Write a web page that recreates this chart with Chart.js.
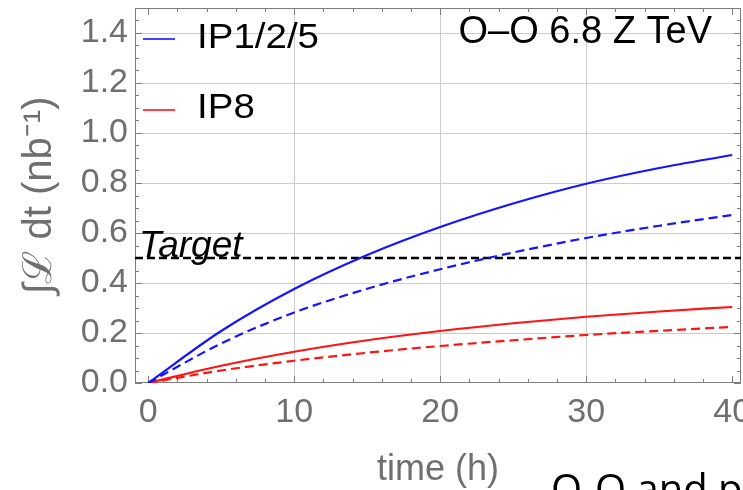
<!DOCTYPE html>
<html>
<head>
<meta charset="utf-8">
<script src="https://cdn.jsdelivr.net/npm/chart.js@4.4.0/dist/chart.umd.min.js"></script>
<style>
  html, body { margin: 0; padding: 0; background: #ffffff; overflow: hidden; }
  #wrap { position: relative; width: 743px; height: 490px; }
</style>
</head>
<body>
<div id="wrap"><canvas id="lumi" width="743" height="490"></canvas></div>
<script>
// Integrated luminosity vs. time for the O-O run (nb^-1 against hours)
const hours        = [0, 5, 10, 15, 20, 25, 30, 35, 40];
const ip125Solid   = [0, 0.208, 0.376, 0.512, 0.624, 0.718, 0.797, 0.860, 0.912];
const ip125Dashed  = [0, 0.158, 0.282, 0.377, 0.455, 0.522, 0.580, 0.629, 0.672];
const ip8Solid     = [0, 0.069, 0.125, 0.171, 0.208, 0.239, 0.265, 0.286, 0.304];
const ip8Dashed    = [0, 0.050, 0.089, 0.121, 0.148, 0.171, 0.192, 0.209, 0.224];
const targetLumi   = 0.5;

const xTicks      = [0, 10, 20, 30, 40];
const xTickLabels = ['0', '10', '20', '30', '40'];
const yTicks      = [0, 0.2, 0.4, 0.6, 0.8, 1.0, 1.2, 1.4];
const yTickLabels = ['0.0', '0.2', '0.4', '0.6', '0.8', '1.0', '1.2', '1.4'];

const seriesNames = ['IP1/2/5', 'IP8'];
const titleText   = 'O\u2013O 6.8 Z TeV';
const targetText  = 'Target';
const captionText = 'O-O and p-O';

const X_MIN = -0.9, X_MAX = 40.6, Y_MIN = 0, Y_MAX = 1.5;
const X_MINOR = 2, Y_MINOR = 0.05;

const BLUE = '#1414ff', RED = '#ff1414';
const SANS = '"Liberation Sans", Arial, Helvetica, sans-serif';
const GREY_TEXT = '#6f6f6f';

const pts = (xs, ys) => xs.map((x, i) => ({ x: x, y: ys[i] }));

// Frame round the plot area with inward major/minor ticks on all four sides
const frameTicks = {
  id: 'frameTicks',
  beforeDatasetsDraw(chart) {
    const { ctx, chartArea: a, scales: { x, y } } = chart;
    ctx.save();
    ctx.strokeStyle = '#7d7d7d';
    ctx.lineWidth = 1;
    ctx.beginPath();
    const nx = Math.round(40 / X_MINOR);
    for (let i = 0; i <= nx; i++) {
      const v = i * X_MINOR;
      const px = Math.round(x.getPixelForValue(v)) + 0.5;
      const len = (v % 10 === 0) ? 7 : 4;
      ctx.moveTo(px, a.bottom); ctx.lineTo(px, a.bottom - len);
      ctx.moveTo(px, a.top);    ctx.lineTo(px, a.top + len);
    }
    const ny = Math.round((Y_MAX - Y_MIN) / Y_MINOR);
    for (let i = 0; i <= ny; i++) {
      const v = Y_MIN + i * Y_MINOR;
      const py = Math.round(y.getPixelForValue(v)) + 0.5;
      const len = (i % 4 === 0) ? 7 : 4;
      ctx.moveTo(a.left, py);  ctx.lineTo(a.left + len, py);
      ctx.moveTo(a.right, py); ctx.lineTo(a.right - len, py);
    }
    ctx.stroke();
    ctx.strokeRect(a.left + 0.5, a.top + 0.5, a.right - a.left - 1, a.bottom - a.top - 1);
    ctx.restore();
  }
};

// Legend, run title, target label and slide caption
const annotations = {
  id: 'annotations',
  afterDatasetsDraw(chart) {
    const { ctx, chartArea: a, scales: { y } } = chart;
    ctx.save();

    // legend entries (solid-line styles)
    const legendRows = [
      { name: seriesNames[0], color: BLUE, lineY: 39, baseY: 48 },
      { name: seriesNames[1], color: RED,  lineY: 110, baseY: 118 }
    ];
    legendRows.forEach(r => {
      ctx.strokeStyle = r.color;
      ctx.lineWidth = 1.6;
      ctx.beginPath();
      ctx.moveTo(a.left + 8, r.lineY);
      ctx.lineTo(a.left + 40, r.lineY);
      ctx.stroke();
      ctx.save();
      ctx.translate(a.left + 62, r.baseY);
      ctx.scale(1.1, 1);
      ctx.font = '35px ' + SANS;
      ctx.textAlign = 'left';
      ctx.textBaseline = 'alphabetic';
      ctx.fillStyle = '#000000';
      ctx.fillText(r.name, 0, 0);
      ctx.restore();
    });

    // run label, top right
    ctx.font = '38px ' + SANS;
    ctx.textAlign = 'right';
    ctx.textBaseline = 'alphabetic';
    ctx.fillStyle = '#000000';
    ctx.fillText(titleText, a.right - 29, 43);

    // target label on the dashed line
    ctx.font = 'italic 37px ' + SANS;
    ctx.textAlign = 'left';
    ctx.fillStyle = '#000000';
    ctx.fillText(targetText, a.left + 4, y.getPixelForValue(targetLumi) - 1);

    // caption at the bottom edge
    ctx.font = '40px "Open Sans", Lato, sans-serif';
    ctx.textAlign = 'left';
    ctx.fillStyle = '#000000';
    ctx.fillText(captionText, 551, 503);

    ctx.restore();
  }
};

new Chart(document.getElementById('lumi'), {
  type: 'line',
  data: {
    datasets: [
      { label: seriesNames[0], data: pts(hours, ip125Solid), borderColor: BLUE, borderWidth: 2.2 },
      { label: seriesNames[0] + ' (dashed)', data: pts(hours, ip125Dashed), borderColor: BLUE, borderWidth: 2.2, borderDash: [9, 5] },
      { label: seriesNames[1], data: pts(hours, ip8Solid), borderColor: RED, borderWidth: 2.2 },
      { label: seriesNames[1] + ' (dashed)', data: pts(hours, ip8Dashed), borderColor: RED, borderWidth: 2.2, borderDash: [9, 5] },
      { label: targetText, data: [{ x: X_MIN, y: targetLumi }, { x: X_MAX, y: targetLumi }], borderColor: '#000000', borderWidth: 2.4, borderDash: [8, 4] }
    ]
  },
  options: {
    responsive: false,
    animation: false,
    devicePixelRatio: 1,
    layout: { padding: { left: 0, top: 8, right: 2, bottom: 0 } },
    elements: {
      point: { radius: 0 },
      line: { cubicInterpolationMode: 'monotone', fill: false }
    },
    plugins: {
      legend: { display: false },
      tooltip: { enabled: false }
    },
    scales: {
      x: {
        type: 'linear',
        min: X_MIN,
        max: X_MAX,
        afterBuildTicks: s => { s.ticks = xTicks.map(v => ({ value: v })); },
        afterFit: s => { s.height = 107; s.paddingLeft = 0; s.paddingRight = 0; },
        ticks: {
          callback: (v, i) => xTickLabels[i],
          font: { family: SANS, size: 34, lineHeight: 1.2 },
          color: GREY_TEXT,
          padding: 9,
          maxRotation: 0,
          autoSkip: false
        },
        grid: {
          drawTicks: false,
          color: c => (c.tick && (c.tick.value === 0 || c.tick.value === 40)) ? 'rgba(0,0,0,0)' : '#cccccc',
          lineWidth: 1
        },
        border: { display: false },
        title: {
          display: true,
          text: 'time (h)',
          color: GREY_TEXT,
          font: { family: SANS, size: 36, lineHeight: 1.1 },
          padding: { top: 0, bottom: 0 }
        }
      },
      y: {
        type: 'linear',
        min: Y_MIN,
        max: Y_MAX,
        afterBuildTicks: s => { s.ticks = yTicks.map(v => ({ value: v })); },
        afterFit: s => { s.width = 135; s.paddingTop = 0; s.paddingBottom = 0; },
        ticks: {
          callback: (v, i) => yTickLabels[i],
          font: { family: SANS, size: 34, lineHeight: 1.2 },
          color: GREY_TEXT,
          padding: 7,
          autoSkip: false
        },
        grid: {
          drawTicks: false,
          color: c => (c.tick && c.tick.value === 0) ? 'rgba(0,0,0,0)' : '#cccccc',
          lineWidth: 1
        },
        border: { display: false },
        title: {
          display: true,
          text: '\u222B\u2112 dt (nb\u207B\u00B9)',
          color: GREY_TEXT,
          font: { family: SANS, size: 40, lineHeight: 1.2 },
          padding: { top: 16, bottom: 0 }
        }
      }
    }
  },
  plugins: [frameTicks, annotations]
});
</script>
</body>
</html>
